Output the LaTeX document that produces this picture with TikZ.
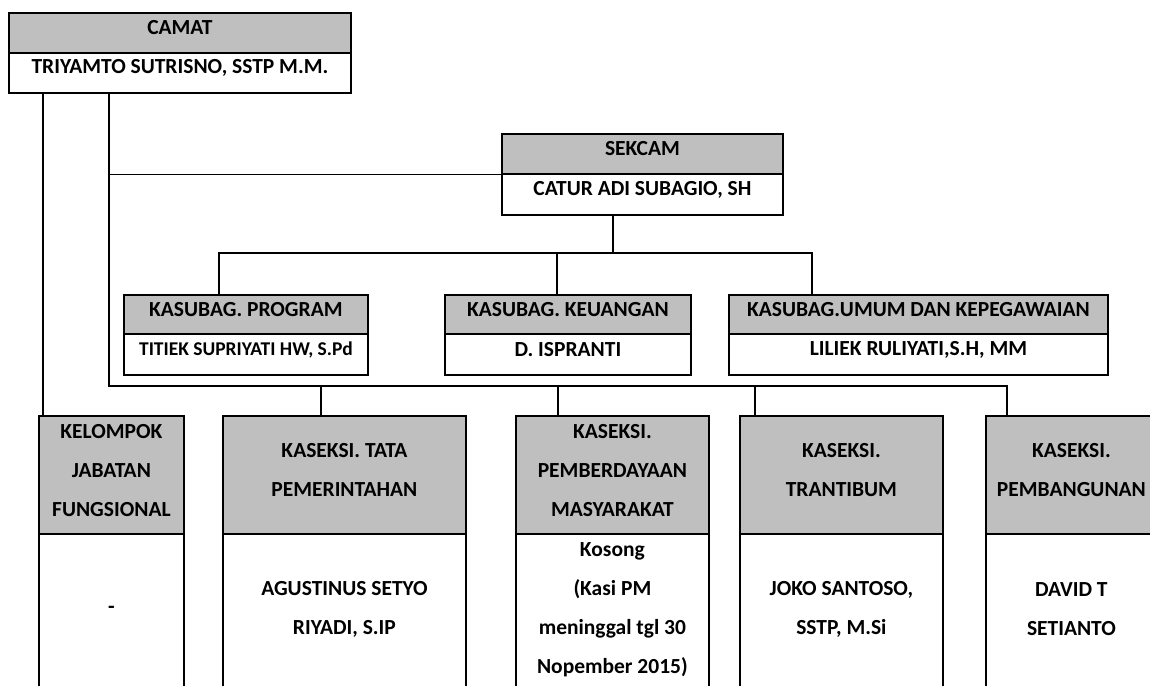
\documentclass[tikz,border=0pt]{standalone}
\usepackage{fontspec}
\setmainfont{Carlito}
\usetikzlibrary{positioning,backgrounds}
\definecolor{silver}{RGB}{191,191,191}
\tikzset{
  cell/.style={rectangle, draw=black, line width=1.8pt, inner sep=0pt, anchor=north west},
  head/.style={cell, fill=silver},
  body/.style={cell, fill=white},
  link/.style={draw=black, line width=1.2pt},
  txt/.style={align=center, inner sep=0pt, font=\bfseries\fontsize{21.5}{39}\selectfont},
  txtsmall/.style={txt, font=\bfseries\fontsize{19.5}{22}\selectfont}
}
\begin{document}
\begin{tikzpicture}[x=1pt, y=-1pt]
\useasboundingbox (0,0) rectangle (1150,685);
\clip (0,0) rectangle (1150,685);
% camat and sekcam
\node[body, minimum width=342, minimum height=40] (camatname)  at (8,52)   {};
\node[head, minimum width=342, minimum height=40] (camat)      at (8,12)   {};
\node[txt] (camatT)  at ([yshift=5.5pt]camat.center)     {CAMAT};
\node[txt] (camatN)  at ([yshift=5pt]camatname.center)   {TRIYAMTO SUTRISNO, SSTP M.M.};

\node[body, minimum width=281, minimum height=41] (sekcamname) at (501,173) {};
\node[head, minimum width=281, minimum height=40] (sekcam)     at (501,133) {};
\node[txt] (sekcamT) at ([yshift=5.5pt]sekcam.center)    {SEKCAM};
\node[txt] (sekcamN) at ([yshift=4.7pt]sekcamname.center) {CATUR ADI SUBAGIO, SH};

% kasubag
\node[body, minimum width=244, minimum height=41] (programname) at (123,333) {};
\node[head, minimum width=244, minimum height=39] (program)     at (123,294) {};
\node[body, minimum width=246, minimum height=41] (keuanganname) at (444,333) {};
\node[head, minimum width=246, minimum height=39] (keuangan)    at (444,294) {};
\node[body, minimum width=379, minimum height=41] (umumname)    at (728,333) {};
\node[head, minimum width=379, minimum height=39] (umum)        at (728,294) {};
\node[txt]      (programT)  at ([yshift=4.5pt]program.center)      {KASUBAG. PROGRAM};
\node[txtsmall] (programN)  at ([yshift=4.5pt]programname.center)  {TITIEK SUPRIYATI HW, S.Pd};
\node[txt]      (keuanganT) at ([yshift=4.5pt]keuangan.center)     {KASUBAG. KEUANGAN};
\node[txt]      (keuanganN) at ([yshift=4.5pt]keuanganname.center) {D. ISPRANTI};
\node[txt]      (umumT)     at ([yshift=4.5pt]umum.center)         {KASUBAG.UMUM DAN KEPEGAWAIAN};
\node[txt]      (umumN)     at ([yshift=4.5pt]umumname.center)     {LILIEK RULIYATI,S.H, MM};

% kaseksi
\node[body, minimum width=145, minimum height=162] (kelompokname) at (38,533)  {};
\node[head, minimum width=145, minimum height=118] (kelompok)     at (38,415)  {};
\node[body, minimum width=243, minimum height=162] (tataname)     at (222,533) {};
\node[head, minimum width=243, minimum height=118] (tata)         at (222,415) {};
\node[body, minimum width=193, minimum height=162] (pmname)       at (515,533) {};
\node[head, minimum width=193, minimum height=118] (pm)           at (515,415) {};
\node[body, minimum width=203, minimum height=162] (trantibumname) at (739,533) {};
\node[head, minimum width=203, minimum height=118] (trantibum)    at (739,415) {};
\node[body, minimum width=171, minimum height=162] (bangunname)   at (985,533) {};
\node[head, minimum width=171, minimum height=118] (bangun)       at (985,415) {};

\node[txt] (kelompokT)  at ([yshift=4.7pt]kelompok.center)      {KELOMPOK\\JABATAN\\FUNGSIONAL};
\node[txt] (kelompokN)  at ([yshift=5.5pt]kelompokname.center)  {-};
\node[txt] (tataT)      at ([yshift=4.7pt]tata.center)          {KASEKSI. TATA\\PEMERINTAHAN};
\node[txt] (tataN)      at ([yshift=5.5pt]tataname.center)      {AGUSTINUS SETYO\\RIYADI, S.IP};
\node[txt] (pmT)        at ([yshift=4.7pt]pm.center)            {KASEKSI.\\PEMBERDAYAAN\\MASYARAKAT};
\node[txt] (pmN)        at ([yshift=5.5pt]pmname.center)        {Kosong\\(Kasi PM\\meninggal tgl 30\\Nopember 2015)};
\node[txt] (trantibumT) at ([yshift=4.7pt]trantibum.center)     {KASEKSI.\\TRANTIBUM};
\node[txt] (trantibumN) at ([yshift=5.5pt]trantibumname.center) {JOKO SANTOSO,\\SSTP, M.Si};
\node[txt] (bangunT)    at ([yshift=4.7pt]bangun.center)        {KASEKSI.\\PEMBANGUNAN};
\node[txt] (bangunN)    at ([yshift=5.5pt]bangunname.center)    {DAVID T\\SETIANTO};

% connector points
\coordinate (busL)  at (109,386);
\coordinate (busR)  at (1007,386);
\coordinate (dTata) at (321,386);
\coordinate (dPm)   at (558,386);
\coordinate (dTrt)  at (755,386);
\coordinate (subL)  at (219,253);
\coordinate (subM)  at (613,253);
\coordinate (subK)  at (557,253);
\coordinate (subR)  at (812,253);

\begin{pgfonlayer}{background}
% links from camat
\draw[link] ([xshift=35pt]camatname.south west) -- ([xshift=5pt]kelompok.north west);
\draw[link] (busL |- camatname.south) -- (busL) -- (busR) -- (busR |- bangun.north);
\draw[link] (busL |- sekcam.south west) -- (sekcam.south west);
\draw[link] (dTata) -- (dTata |- tata.north);
\draw[link] (dPm)   -- (dPm |- pm.north);
\draw[link] (dTrt)  -- (dTrt |- trantibum.north);
% links from sekcam
\draw[link] (subM |- sekcamname.south) -- (subM);
\draw[link] (subL |- program.north) -- (subL) -- (subR) -- (subR |- umum.north);
\draw[link] (subK) -- (subK |- keuangan.north);
\end{pgfonlayer}
\end{tikzpicture}
\end{document}
